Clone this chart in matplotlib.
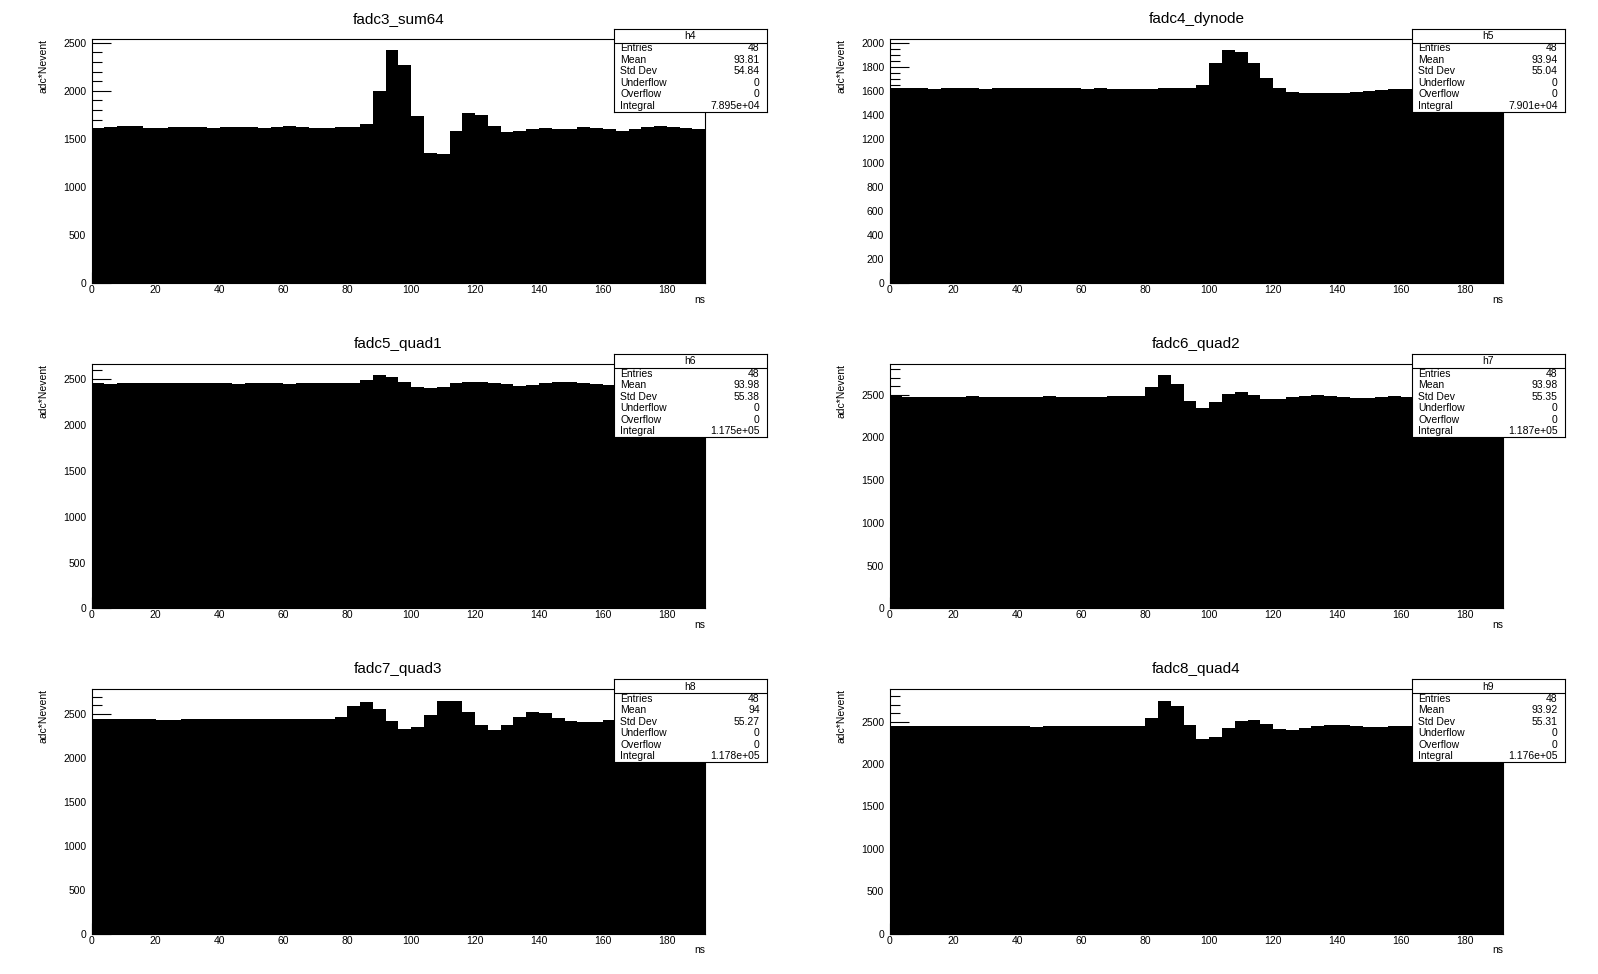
import matplotlib
matplotlib.use('Agg')
import matplotlib.pyplot as plt
import numpy as np
from matplotlib.ticker import MultipleLocator

plt.rcParams['font.family'] = ['Liberation Sans', 'DejaVu Sans']

# 48 bins, 4 ns wide
edges = np.arange(0, 196, 4)

sum64 = [1614, 1624, 1634, 1634, 1614, 1614, 1624, 1624, 1624, 1614, 1624, 1624,
         1624, 1614, 1624, 1634, 1624, 1614, 1614, 1624, 1624, 1655, 1997, 2421,
         2266, 1738, 1355, 1345, 1583, 1769, 1748, 1634, 1572, 1583, 1603, 1614,
         1603, 1603, 1624, 1614, 1603, 1583, 1603, 1624, 1634, 1624, 1614, 1603]
dynode = [1626, 1626, 1626, 1618, 1626, 1626, 1626, 1618, 1626, 1626, 1626, 1626,
          1626, 1626, 1626, 1618, 1626, 1618, 1618, 1618, 1618, 1626, 1626, 1626,
          1651, 1839, 1941, 1924, 1833, 1711, 1626, 1595, 1584, 1584, 1584, 1584,
          1592, 1601, 1609, 1618, 1622, 1626, 1630, 1634, 1634, 1638, 1638, 1634]
quad1 = [2457, 2442, 2453, 2453, 2453, 2453, 2453, 2453, 2453, 2453, 2453, 2442,
         2453, 2453, 2453, 2442, 2453, 2453, 2453, 2453, 2453, 2493, 2540, 2522,
         2471, 2417, 2406, 2417, 2453, 2471, 2471, 2460, 2442, 2420, 2431, 2453,
         2464, 2471, 2460, 2442, 2440, 2436, 2436, 2440, 2440, 2436, 2436, 2440]
quad2 = [2481, 2469, 2469, 2469, 2469, 2469, 2481, 2469, 2469, 2469, 2469, 2469,
         2481, 2469, 2469, 2469, 2469, 2481, 2481, 2481, 2585, 2725, 2624, 2422,
         2341, 2415, 2508, 2527, 2492, 2446, 2446, 2469, 2481, 2492, 2481, 2469,
         2457, 2457, 2469, 2481, 2475, 2475, 2475, 2475, 2475, 2475, 2475, 2475]
quad3 = [2451, 2451, 2451, 2451, 2451, 2439, 2439, 2451, 2451, 2451, 2451, 2451,
         2451, 2451, 2451, 2451, 2451, 2451, 2451, 2470, 2598, 2640, 2564, 2424,
         2337, 2356, 2492, 2655, 2655, 2530, 2379, 2326, 2379, 2470, 2527, 2515,
         2462, 2428, 2413, 2413, 2439, 2440, 2440, 2440, 2440, 2440, 2440, 2440]
quad4 = [2446, 2446, 2446, 2446, 2446, 2446, 2446, 2446, 2446, 2446, 2446, 2435,
         2446, 2446, 2446, 2446, 2446, 2446, 2446, 2446, 2542, 2746, 2688, 2458,
         2296, 2312, 2423, 2504, 2515, 2469, 2412, 2400, 2423, 2446, 2458, 2458,
         2446, 2435, 2435, 2446, 2446, 2446, 2446, 2446, 2446, 2446, 2446, 2446]

titles = ['fadc3_sum64', 'fadc4_dynode', 'fadc5_quad1', 'fadc6_quad2', 'fadc7_quad3', 'fadc8_quad4']
hist_names = ['h4', 'h5', 'h6', 'h7', 'h8', 'h9']
stat_labels = ['Entries', 'Mean', 'Std Dev', 'Underflow', 'Overflow', 'Integral']
stat_values = [
    ['48', '93.81', '54.84', '0', '0', '7.895e+04'],
    ['48', '93.94', '55.04', '0', '0', '7.901e+04'],
    ['48', '93.98', '55.38', '0', '0', '1.175e+05'],
    ['48', '93.98', '55.35', '0', '0', '1.187e+05'],
    ['48', '94', '55.27', '0', '0', '1.178e+05'],
    ['48', '93.92', '55.31', '0', '0', '1.176e+05'],
]
series = [sum64, dynode, quad1, quad2, quad3, quad4]
major_steps = [500, 200, 500, 500, 500, 500]
minor_steps = [100, 50, 100, 100, 100, 100]

W, H = 1598, 974
col_left = [91.7, 889.7]
row_top = [38.7, 363.8, 689.0]
ax_w, ax_h = 613.5, 244.6

fig = plt.figure(figsize=(W / 100, H / 100), dpi=100)
fig.patch.set_facecolor('white')

for i in range(6):
    x0 = col_left[i % 2]
    y0 = row_top[i // 2]
    ax = fig.add_axes([x0 / W, 1 - (y0 + ax_h) / H, ax_w / W, ax_h / H])
    vals = series[i]
    ax.stairs(vals, edges, fill=True, color='black', linewidth=0)
    ax.set_xlim(0, 192)
    ax.set_ylim(0, 1.05 * max(vals))
    ax.xaxis.set_major_locator(MultipleLocator(20))
    ax.xaxis.set_minor_locator(MultipleLocator(5))
    ax.yaxis.set_major_locator(MultipleLocator(major_steps[i]))
    ax.yaxis.set_minor_locator(MultipleLocator(minor_steps[i]))
    ax.tick_params(axis='both', which='both', direction='in', top=False, right=False,
                   labelsize=7.5, width=0.8)
    ax.tick_params(axis='y', which='major', length=14, pad=4)
    ax.tick_params(axis='y', which='minor', length=7)
    ax.tick_params(axis='x', which='major', length=8, pad=1.5)
    ax.tick_params(axis='x', which='minor', length=4)
    for sp in ax.spines.values():
        sp.set_linewidth(0.8)
    ax.set_ylabel('adc*Nevent', fontsize=7.5, loc='top')
    ax.yaxis.set_label_coords(-0.071, 1.0)
    ax.set_xlabel('ns', fontsize=7.5, loc='right')
    ax.xaxis.set_label_coords(1.0, -0.047)
    ax.text(0.5, 1 + 20 / ax_h, titles[i], transform=ax.transAxes,
            ha='center', va='center', fontsize=11)

    # stats box
    ax_right = x0 + ax_w
    bl, br = ax_right - 91.5, ax_right + 62
    bt, bb = y0 - 10, y0 + 73
    bw, bh = br - bl, bb - bt
    sax = fig.add_axes([bl / W, 1 - bb / H, bw / W, bh / H])
    sax.set_facecolor('white')
    sax.set_xlim(0, bw)
    sax.set_ylim(bh, 0)
    sax.set_xticks([])
    sax.set_yticks([])
    for sp in sax.spines.values():
        sp.set_linewidth(0.8)
    sax.plot([0, bw], [14, 14], color='black', linewidth=0.8)
    sax.text(bw / 2, 7.5, hist_names[i], ha='center', va='center', fontsize=7.5)
    row_h = (bh - 14) / 6
    for k in range(6):
        yy = 14 + row_h * (k + 0.5)
        sax.text(6.5, yy, stat_labels[k], ha='left', va='center', fontsize=7.5)
        sax.text(bw - 7.5, yy, stat_values[i][k], ha='right', va='center', fontsize=7.5)

fig.savefig('out.png', dpi=100)
